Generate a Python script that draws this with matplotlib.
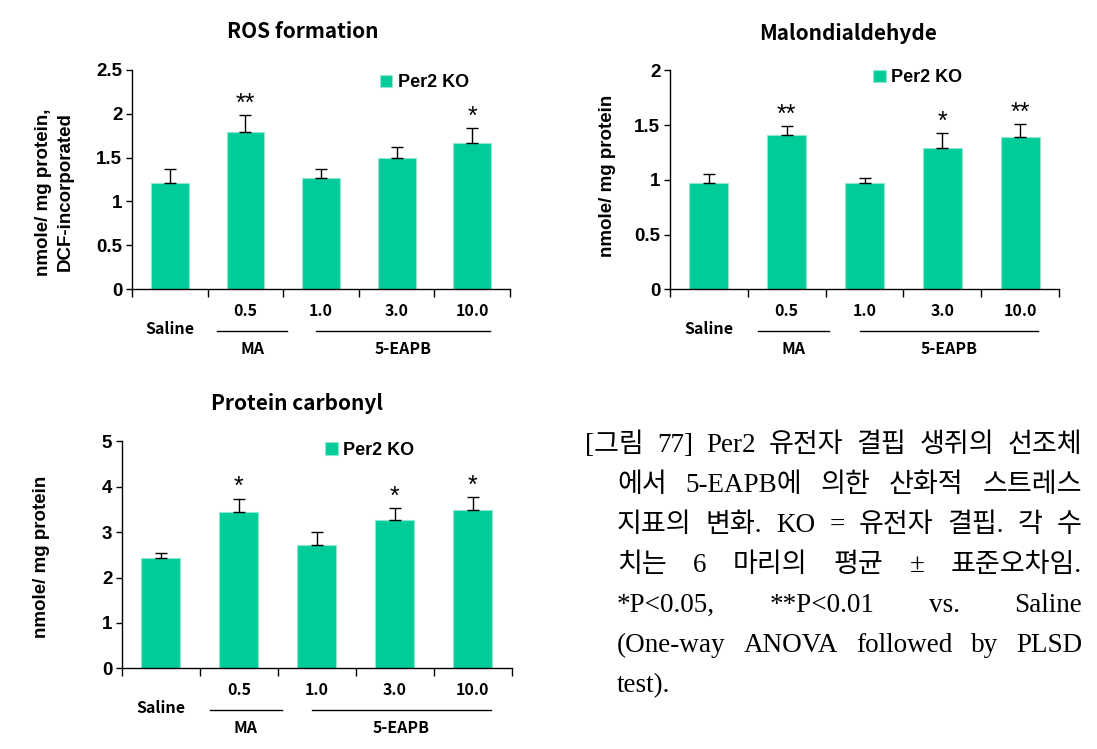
import numpy as np
import matplotlib
matplotlib.use('Agg')
import matplotlib.pyplot as plt
from matplotlib.ticker import FuncFormatter
from matplotlib.transforms import ScaledTranslation

# data
groups = ['Saline', '0.5', '1.0', '3.0', '10.0']
ros_mean = [1.21, 1.79, 1.27, 1.49, 1.67]
ros_top = [1.37, 1.98, 1.37, 1.62, 1.84]
ros_sig = ['', '**', '', '', '*']
mda_mean = [0.97, 1.41, 0.97, 1.29, 1.39]
mda_top = [1.05, 1.49, 1.02, 1.43, 1.51]
mda_sig = ['', '**', '', '*', '**']
pc_mean = [2.44, 3.45, 2.71, 3.26, 3.48]
pc_top = [2.55, 3.74, 3.00, 3.52, 3.77]
pc_sig = ['', '*', '', '*', '*']

caption_lines = [
    "[그림 77] Per2 유전자 결핍 생쥐의 선조체",
    "에서 5-EAPB에 의한 산화적 스트레스",
    "지표의 변화. KO = 유전자 결핍. 각 수",
    "치는 6 마리의 평균 ± 표준오차임.",
    "*P<0.05, **P<0.01 vs. Saline",
    "(One-way ANOVA followed by PLSD",
    "test).",
]

W, H = 1097, 749
BAR = '#00CC99'
kfont = ['Noto Sans CJK KR', 'DejaVu Sans']
afont = ['Liberation Sans', 'DejaVu Sans']

fig = plt.figure(figsize=(W / 100, H / 100), dpi=100)


def px_axes(left, top, right, bottom):
    return fig.add_axes([left / W, 1 - bottom / H, (right - left) / W, (bottom - top) / H])


def panel(ax, mean, top, sig, ymax, ystep, title, tpos, ylabel, ypos, leg):
    x = np.arange(len(groups)) + 0.5
    bars = ax.bar(x, mean, width=0.5, color=BAR, edgecolor='#8FE8D2', linewidth=0.8,
                  label='Per2 KO', zorder=2)
    lo = np.zeros(len(mean))
    hi = np.array(top) - np.array(mean)
    ax.errorbar(x, mean, yerr=[lo, hi], fmt='none', ecolor='black', elinewidth=1,
                capsize=4, capthick=1, zorder=3)
    for xi, t, s in zip(x, top, sig):
        if s:
            ax.annotate(s, (xi, t), xytext=(0, 3), textcoords='offset points',
                        ha='center', va='baseline', fontsize=18, family=afont)
    ax.set_xlim(0, 5)
    ax.set_ylim(0, ymax)
    ax.set_yticks(np.arange(0, ymax + 1e-9, ystep))
    ax.yaxis.set_major_formatter(FuncFormatter(lambda v, p: '%g' % v))
    ax.set_xticks(np.arange(0, 6))
    ax.set_xticklabels([])
    for sp in ['top', 'right']:
        ax.spines[sp].set_visible(False)
    for sp in ['left', 'bottom']:
        ax.spines[sp].set_linewidth(1)
    ax.tick_params(axis='x', direction='out', length=6, width=1)
    ax.tick_params(axis='y', direction='out', length=4, width=1, pad=3)
    for lab in ax.get_yticklabels():
        lab.set_fontsize(13.5)
        lab.set_fontweight('bold')
        lab.set_family(afont)

    # group labels under the axis
    for i, g in enumerate(groups):
        off = 40 if i == 0 else 22
        ax.annotate(g, (x[i], 0), xycoords=('data', 'axes fraction'),
                    xytext=(0, -off * 0.72), textcoords='offset points',
                    ha='center', va='center', fontsize=11.5, fontweight='bold', family=kfont)
    shift = ax.get_xaxis_transform() + ScaledTranslation(0, -42 / 100, fig.dpi_scale_trans)
    for (x0, x1, name) in [(1.13, 2.05, 'MA'), (2.44, 4.73, '5-EAPB')]:
        ax.add_line(plt.Line2D([x0, x1], [0, 0], color='black', lw=1,
                               transform=shift, clip_on=False))
        ax.annotate(name, ((x0 + x1) / 2, 0), xycoords=('data', 'axes fraction'),
                    xytext=(0, -60 * 0.72), textcoords='offset points',
                    ha='center', va='center', fontsize=11.5, fontweight='bold', family=kfont)

    fig.text(tpos[0] / W, 1 - tpos[1] / H, title, ha='center', va='center',
             fontsize=15, fontweight='bold', family=kfont)
    fig.text(ypos[0] / W, 1 - ypos[1] / H, ylabel, ha='center', va='center',
             rotation=90, fontsize=13.5, fontweight='bold', family=afont, linespacing=1.35)
    ax.legend(handles=[bars], loc='center left', bbox_to_anchor=leg, frameon=False,
              handlelength=0.7, handleheight=0.7, handletextpad=0.3, borderpad=0,
              borderaxespad=0, prop={'family': afont, 'weight': 'bold', 'size': 13})


ax1 = px_axes(132, 69.7, 510, 289.3)
panel(ax1, ros_mean, ros_top, ros_sig, 2.5, 0.5, 'ROS formation', (303, 32),
      'nmole/ mg protein,\nDCF-incorporated', (54, 192), (0.655, 0.94))

ax2 = px_axes(670, 70.3, 1059, 289.3)
panel(ax2, mda_mean, mda_top, mda_sig, 2, 0.5, 'Malondialdehyde', (848, 33),
      'nmole/ mg protein', (607, 176), (0.522, 0.965))

ax3 = px_axes(122, 441.3, 511.7, 668.3)
panel(ax3, pc_mean, pc_top, pc_sig, 5, 1, 'Protein carbonyl', (297, 403),
      'nmole/ mg protein', (42, 557), (0.522, 0.96))

# justified caption
renderer = fig.canvas.get_renderer()
cap_font = ['Liberation Serif', 'Noto Sans CJK KR']
cap_right = 1082
for i, line in enumerate(caption_lines):
    left = 585 if i == 0 else 617
    base = 452 + 40 * i
    words = line.split(' ')
    texts = [fig.text(0, 1 - base / H, w, fontsize=19.5, family=cap_font, va='baseline')
             for w in words]
    widths = [t.get_window_extent(renderer).width for t in texts]
    if i == len(caption_lines) - 1 or len(words) == 1:
        gap = 6
    else:
        gap = (cap_right - left - sum(widths)) / (len(words) - 1)
    xx = left
    for t, w in zip(texts, widths):
        t.set_x(xx / W)
        xx += w + gap

fig.savefig('out.png', dpi=100)
